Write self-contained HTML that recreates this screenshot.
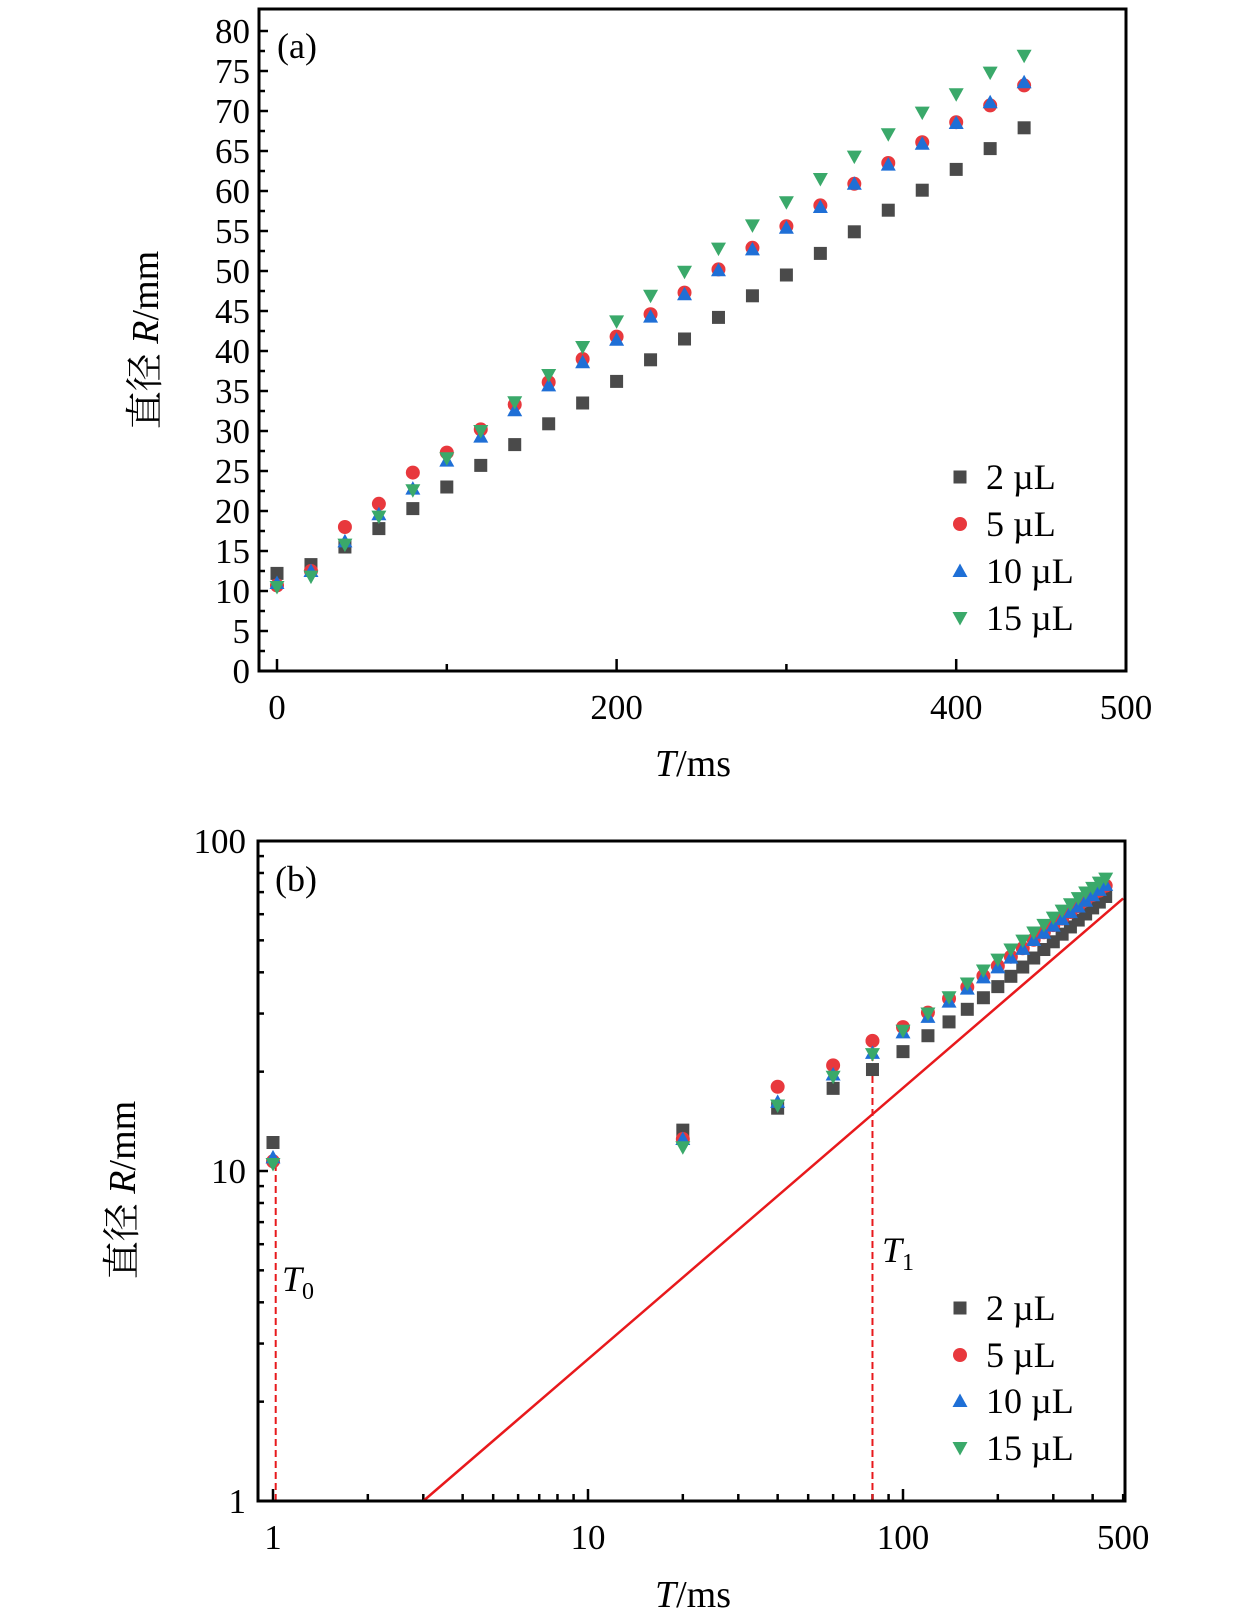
<!DOCTYPE html>
<html><head><meta charset="utf-8"><style>
html,body{margin:0;padding:0;background:#fff;}
svg{display:block;font-family:"Liberation Serif","Noto Serif CJK SC",serif;}
</style></head><body>
<svg id="chart" width="1260" height="1622" viewBox="0 0 1260 1622" xmlns="http://www.w3.org/2000/svg"></svg>
<script>
const times = [0,20,40,60,80,100,120,140,160,180,200,220,240,260,280,300,320,340,360,380,400,420,440];
const seriesNames = ["2 µL","5 µL","10 µL","15 µL"];
const r2 = [12.2,13.3,15.5,17.8,20.3,23,25.7,28.3,30.9,33.5,36.2,38.9,41.5,44.2,46.9,49.5,52.2,54.9,57.6,60.1,62.7,65.3,67.9];
const r5 = [10.7,12.5,18,20.9,24.8,27.3,30.2,33.3,36.1,39,41.8,44.6,47.3,50.2,52.9,55.6,58.2,60.9,63.5,66.1,68.6,70.7,73.2];
const r10 = [11,12.5,16.2,19.6,22.8,26.3,29.3,32.6,35.7,38.6,41.4,44.3,47.1,50.1,52.7,55.4,58,60.9,63.3,65.9,68.5,71.1,73.6];
const r15 = [10.5,11.8,15.8,19.3,22.6,26.6,30,33.6,37,40.5,43.7,46.9,49.9,52.8,55.7,58.6,61.5,64.3,67.1,69.8,72.1,74.8,76.9];
const yTicksA = [0,5,10,15,20,25,30,35,40,45,50,55,60,65,70,75,80];
const xTicksA = [0,200,400,500];
const xTicksB = [1,10,100,500];
const yTicksB = [1,10,100];
const fitLine = [[3,1],[500,67]];
const t0Line = [1.02,10.5];
const t1Line = [80,24];

const NS="http://www.w3.org/2000/svg";
const svg=document.getElementById('chart');
function mk(tag,attrs,parent){const e=document.createElementNS(NS,tag);for(const k in attrs)e.setAttribute(k,attrs[k]);(parent||svg).appendChild(e);return e;}
const colors=["#4a4a4a","#e8383d","#1f6fd6","#3aa96a"];
const series=[r2,r5,r10,r15];

const A={l:259,r:1126,t:9,b:671};
const axA=v=>277+(v-0)*(1126-277)/500;
const ayA=v=>671-v*8;
const B={l:258,r:1125,t:841,b:1501};
const axB=v=>273+Math.log10(v)*315;
const ayB=v=>1501-Math.log10(v)*330;

function marker(g,type,x,y,c){
  let e;
  if(type===0){e=mk('rect',{x:x-6.5,y:y-6.5,width:13,height:13,fill:c},g);}
  else if(type===1){e=mk('circle',{cx:x,cy:y,r:7,fill:c},g);}
  else if(type===2){e=mk('polygon',{points:`${x},${y-7.5} ${x+7.5},${y+6} ${x-7.5},${y+6}`,fill:c},g);}
  else {e=mk('polygon',{points:`${x},${y+7.5} ${x+7.5},${y-6} ${x-7.5},${y-6}`,fill:c},g);}
  
  
  return e;
}
function text(str,x,y,size,anchor,name,parent){
  const t=mk('text',{x:x,y:y,'font-size':size,'text-anchor':anchor||'middle',fill:'#000'},parent);
  t.textContent=str;
  
  
  return t;
}

// ---------- Panel A ----------
const gA=mk('g',{});


for(let v=0;v<=80;v+=2.5){
  const y=ayA(v);const major=(v%5===0);
  mk('line',{x1:A.l,x2:A.l+(major?9:6),y1:y,y2:y,stroke:'#000','stroke-width':2.5},gA);
}
yTicksA.forEach(v=>text(String(v),A.l-9,ayA(v)+12,35,'end','y-tick-label',gA));
[0,100,200,300,400].forEach(v=>{
  const x=axA(v);const major=(v%200===0);
  mk('line',{x1:x,x2:x,y1:A.b,y2:A.b-(major?12:7),stroke:'#000','stroke-width':2.5},gA);
});
xTicksA.forEach(v=>text(String(v),axA(v),A.b+48,35,'middle','x-tick-label',gA));
series.forEach((s,si)=>{
  const g=mk('g',{},gA);
  
  
  times.forEach((t,i)=>marker(g,si,axA(t),ayA(s[i]),colors[si]));
});
const frA=mk('rect',{x:A.l,y:A.t,width:A.r-A.l,height:A.b-A.t,fill:'none',stroke:'#000','stroke-width':3},gA);


text('(a)',277,58,36,'start','panel-label-a',gA);
const legA=[477,524,571,618];
seriesNames.forEach((n,i)=>{marker(gA,i,960,legA[i],colors[i]);text(n,986,legA[i]+12,36,'start','legend-entry',gA);});
const ytA=text('',0,0,38,'middle','y-axis-title-a',gA);
ytA.setAttribute('transform','translate(158,340) rotate(-90)');
ytA.innerHTML='直径 <tspan font-style="italic">R</tspan>/mm';
const xtA=text('',693,776,38,'middle','x-axis-title-a',gA);
xtA.innerHTML='<tspan font-style="italic">T</tspan>/ms';

// ---------- Panel B ----------
const gB=mk('g',{});


[1,10].forEach(d=>{for(let k=1;k<10;k++){const v=d*k;const y=ayB(v);
  mk('line',{x1:B.l,x2:B.l+(k===1?10:6),y1:y,y2:y,stroke:'#000','stroke-width':2.5},gB);}});
yTicksB.forEach(v=>text(String(v),B.l-12,ayB(v)+12,35,'end','y-tick-label',gB));
[1,10,100].forEach(d=>{for(let k=1;k<10;k++){const v=d*k;if(v>500)break;const x=axB(v);
  mk('line',{x1:x,x2:x,y1:B.b,y2:B.b-(k===1?12:7),stroke:'#000','stroke-width':2.5},gB);}});
xTicksB.forEach(v=>text(String(v),axB(v),B.b+48,35,'middle','x-tick-label',gB));
const fl=mk('line',{x1:axB(fitLine[0][0]),y1:ayB(fitLine[0][1]),x2:axB(fitLine[1][0]),y2:ayB(fitLine[1][1]),stroke:'#e8191c','stroke-width':2.5},gB);


const d0=mk('line',{x1:axB(t0Line[0]),x2:axB(t0Line[0]),y1:B.b,y2:ayB(t0Line[1]),stroke:'#e8191c','stroke-width':2,'stroke-dasharray':'7,4'},gB);


const d1=mk('line',{x1:axB(t1Line[0]),x2:axB(t1Line[0]),y1:B.b,y2:ayB(t1Line[1]),stroke:'#e8191c','stroke-width':2,'stroke-dasharray':'7,4'},gB);


series.forEach((s,si)=>{
  const g=mk('g',{},gB);
  
  
  times.forEach((t,i)=>marker(g,si,axB(t===0?1:t),ayB(s[i]),colors[si]));
});
const frB=mk('rect',{x:B.l,y:B.t,width:B.r-B.l,height:B.b-B.t,fill:'none',stroke:'#000','stroke-width':3},gB);


text('(b)',275,891,36,'start','panel-label-b',gB);
const t0=text('',282,1291,36,'start','t0-label',gB);
t0.innerHTML='<tspan font-style="italic">T</tspan><tspan font-size="24" dy="8">0</tspan>';
const t1=text('',882,1262,36,'start','t1-label',gB);
t1.innerHTML='<tspan font-style="italic">T</tspan><tspan font-size="24" dy="8">1</tspan>';
const legB=[1308,1355,1401,1448];
seriesNames.forEach((n,i)=>{marker(gB,i,960,legB[i],colors[i]);text(n,986,legB[i]+12,36,'start','legend-entry',gB);});
const ytB=text('',0,0,38,'middle','y-axis-title-b',gB);
ytB.setAttribute('transform','translate(135,1190) rotate(-90)');
ytB.innerHTML='直径 <tspan font-style="italic">R</tspan>/mm';
const xtB=text('',693,1607,38,'middle','x-axis-title-b',gB);
xtB.innerHTML='<tspan font-style="italic">T</tspan>/ms';
</script>
</body></html>
